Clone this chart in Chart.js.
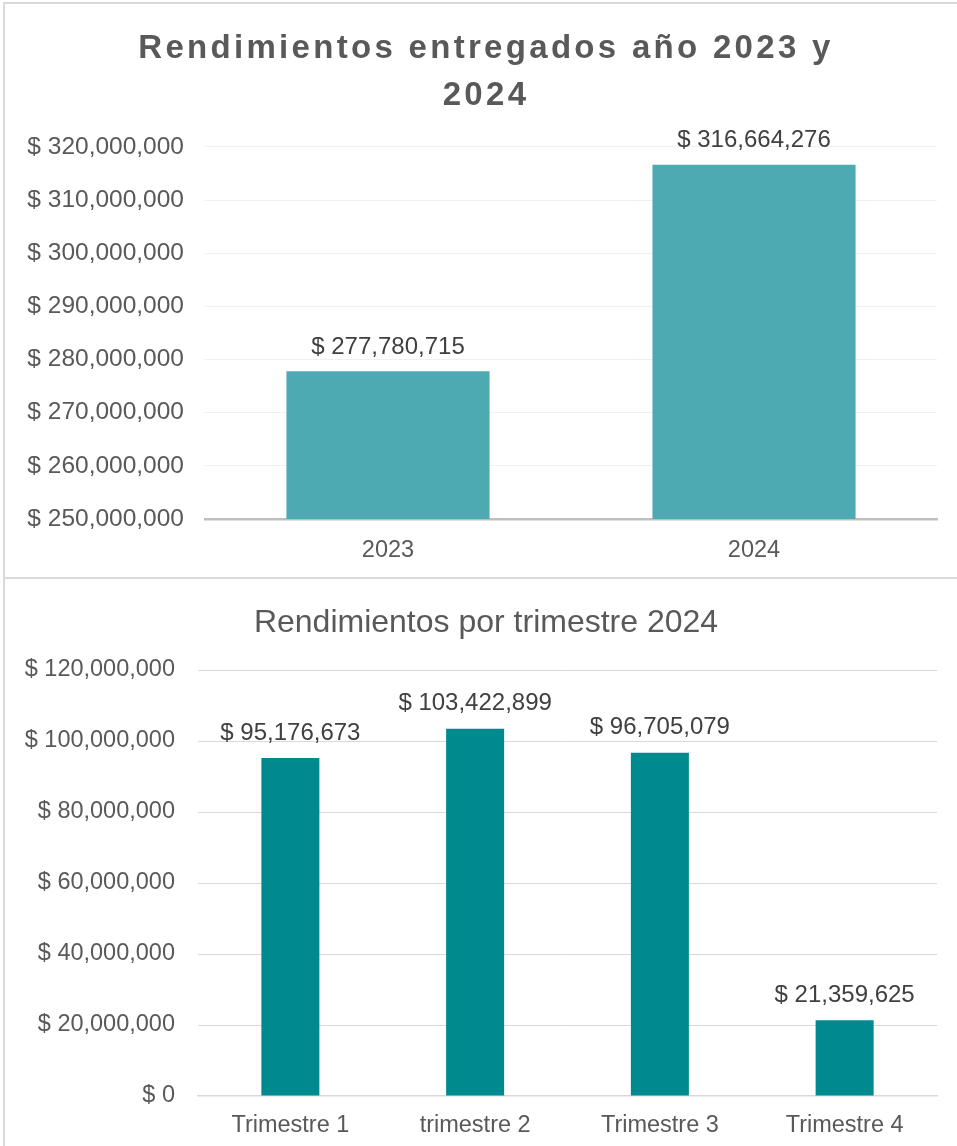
<!DOCTYPE html>
<html>
<head>
<meta charset="utf-8">
<script src="https://cdn.jsdelivr.net/npm/chart.js@4/dist/chart.umd.min.js"></script>
<style>
  html, body { margin: 0; padding: 0; background: #fff; overflow: hidden; width: 957px; height: 1146px; }
  .line { position: absolute; background: #d9d9d9; }
  canvas { position: absolute; }
</style>
</head>
<body>
<div class="line" style="left:3px; top:2px; width:960px; height:2px;"></div>
<div class="line" style="left:3px; top:2px; width:2px; height:1150px;"></div>
<div class="line" style="left:3px; top:577px; width:960px; height:2px;"></div>
<canvas id="c1" width="964" height="574" style="left:4px; top:4px;"></canvas>
<canvas id="c2" width="964" height="566" style="left:4px; top:580px;"></canvas>
<script>
// ---- data ----
const yearLabels = ['2023', '2024'];
const yearValues = [277780715, 316664276];
const yearTitle = ['Rendimientos entregados año 2023 y', '2024'];
const yearAxisMin = 250000000;
const yearAxisMax = 320000000;
const yearAxisStep = 10000000;

const quarterLabels = ['Trimestre 1', 'trimestre 2', 'Trimestre 3', 'Trimestre 4'];
const quarterValues = [95176673, 103422899, 96705079, 21359625];
const quarterTitle = 'Rendimientos por trimestre 2024';
const quarterAxisMin = 0;
const quarterAxisMax = 120000000;
const quarterAxisStep = 20000000;

// ---- helpers ----
const FONT = "'Liberation Sans', Arial, Helvetica, sans-serif";
const fmt = v => '$ ' + Number(v).toLocaleString('en-US');

const valueLabels = {
  id: 'valueLabels',
  afterDatasetsDraw(chart, args, opts) {
    const ctx = chart.ctx;
    ctx.save();
    ctx.font = `${opts.size}px ${FONT}`;
    ctx.fillStyle = '#404040';
    ctx.textAlign = 'center';
    ctx.textBaseline = 'middle';
    chart.getDatasetMeta(0).data.forEach((bar, i) => {
      const v = chart.data.datasets[0].data[i];
      ctx.fillText(fmt(v), bar.x, bar.y - opts.offset);
    });
    ctx.restore();
  }
};

// centres the title on the whole canvas and applies optional letter spacing
const titleTweak = {
  id: 'titleTweak',
  beforeDraw(chart, args, opts) {
    const tb = chart.titleBlock;
    if (tb && !tb._tweaked) {
      const orig = tb.draw.bind(tb);
      tb.draw = function () {
        const ctx = this.ctx;
        const shift = chart.width / 2 - (this.left + this.right) / 2;
        ctx.save();
        ctx.translate(shift, 0);
        if (opts.spacing) ctx.letterSpacing = opts.spacing;
        orig();
        ctx.restore();
      };
      tb._tweaked = true;
    }
  }
};

function makeChart(id, cfg) {
  return new Chart(document.getElementById(id), {
    type: 'bar',
    data: {
      labels: cfg.labels,
      datasets: [{
        data: cfg.values,
        backgroundColor: cfg.color,
        borderWidth: 0,
        barPercentage: cfg.barPct,
        categoryPercentage: 1
      }]
    },
    plugins: [valueLabels, titleTweak],
    options: {
      responsive: false,
      animation: false,
      devicePixelRatio: 1,
      layout: { padding: { left: 0, right: 31, top: 0, bottom: 0 } },
      plugins: {
        legend: { display: false },
        tooltip: { enabled: false },
        title: {
          display: true,
          text: cfg.title,
          color: '#595959',
          font: { family: FONT, size: cfg.titleSize, weight: cfg.titleWeight, lineHeight: cfg.titleLH },
          padding: { top: cfg.titlePadTop, bottom: cfg.titlePadBottom }
        },
        valueLabels: { size: 24, offset: cfg.labelOffset },
        titleTweak: { spacing: cfg.titleSpacing }
      },
      scales: {
        x: {
          grid: { display: false },
          border: { display: true, color: cfg.axisColor, width: cfg.axisWidth },
          ticks: { color: '#595959', font: { family: FONT, size: 23.5 }, padding: cfg.xPad },
          afterFit(scale) { scale.height = cfg.xHeight; }
        },
        y: {
          min: cfg.min, max: cfg.max,
          border: { display: false },
          grid: {
            drawTicks: false,
            color: ctx => (ctx.tick && ctx.tick.value === cfg.min) ? 'rgba(0,0,0,0)' : cfg.gridColor,
            lineWidth: 1
          },
          ticks: {
            stepSize: cfg.step,
            color: '#595959',
            font: { family: FONT, size: cfg.yTickSize },
            padding: cfg.yPad,
            callback: v => fmt(v)
          },
          afterFit(scale) { scale.width = cfg.yWidth; }
        }
      }
    }
  });
}

makeChart('c1', {
  labels: yearLabels, values: yearValues, color: '#4DAAB3', barPct: 0.555,
  title: yearTitle, titleSize: 33, titleWeight: 'bold', titleLH: 1.43,
  titlePadTop: 21.5, titlePadBottom: 27.1, titleSpacing: '3.3px',
  labelOffset: 24,
  axisColor: '#bfbfbf', axisWidth: 2.5, xPad: 9, xHeight: 59,
  min: yearAxisMin, max: yearAxisMax, step: yearAxisStep,
  gridColor: '#f0f0f0', yTickSize: 24.5, yPad: 21, yWidth: 201
});

makeChart('c2', {
  labels: quarterLabels, values: quarterValues, color: '#00898E', barPct: 0.314,
  title: quarterTitle, titleSize: 32, titleWeight: 'normal', titleLH: 1.2,
  titlePadTop: 23.8, titlePadBottom: 27.8, titleSpacing: '',
  labelOffset: 25,
  axisColor: '#d9d9d9', axisWidth: 1.5, xPad: 7, xHeight: 50,
  min: quarterAxisMin, max: quarterAxisMax, step: quarterAxisStep,
  gridColor: '#d9d9d9', yTickSize: 23.5, yPad: 23, yWidth: 194
});
</script>
</body>
</html>
